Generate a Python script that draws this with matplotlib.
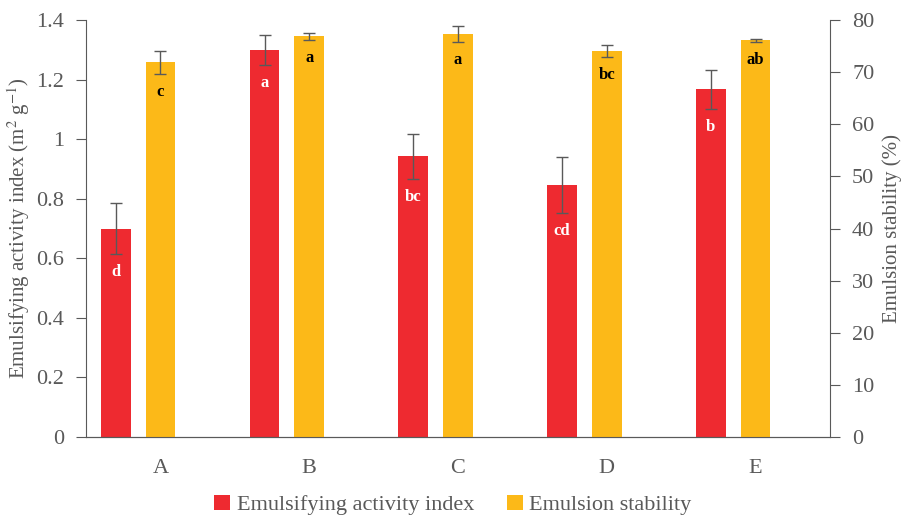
import numpy as np
import matplotlib.pyplot as plt

plt.rcParams['font.family'] = ['Liberation Serif', 'DejaVu Serif']
plt.rcParams['mathtext.fontset'] = 'stix'

# data
groups = ['A', 'B', 'C', 'D', 'E']
eai = [0.70, 1.30, 0.943, 0.846, 1.168]
eai_err = [0.085, 0.05, 0.075, 0.095, 0.066]
eai_letters = ['d', 'a', 'bc', 'cd', 'b']
es = [71.9, 76.9, 77.4, 74.1, 76.1]
es_err = [2.2, 0.7, 1.5, 1.1, 0.3]
es_letters = ['c', 'a', 'a', 'bc', 'ab']

red = '#EE2A30'
yellow = '#FCB918'
grey = '#595959'

x = np.arange(len(groups))
width = 0.2

fig = plt.figure(figsize=(9.06, 5.17), dpi=100)
ax = fig.add_axes([0.095, 0.155, 0.821, 0.806])
ax2 = ax.twinx()

b1 = ax.bar(x - 0.3, eai, width, color=red, yerr=eai_err, capsize=4,
            error_kw=dict(ecolor=grey, elinewidth=1, capthick=1),
            label='Emulsifying activity index', zorder=2)
b2 = ax2.bar(x, es, width, color=yellow, yerr=es_err, capsize=4,
             error_kw=dict(ecolor=grey, elinewidth=1, capthick=1),
             label='Emulsion stability', zorder=2)

# significance letters just under the error bars
for xi, v, e, t in zip(x, eai, eai_err, eai_letters):
    ax.annotate(t, (xi - 0.3, v - e), xytext=(0, -13), textcoords='offset points',
                ha='center', va='center', color='white', fontweight='bold', fontsize=12)
for xi, v, e, t in zip(x, es, es_err, es_letters):
    ax2.annotate(t, (xi, v - e), xytext=(0, -13), textcoords='offset points',
                 ha='center', va='center', color='black', fontweight='bold', fontsize=12)

ax.set_xlim(-0.5, 4.5)
ax.set_ylim(0, 1.4)
ax2.set_ylim(0, 80)
ax.set_yticks([0, 0.2, 0.4, 0.6, 0.8, 1, 1.2, 1.4])
ax.set_yticklabels(['0', '0.2', '0.4', '0.6', '0.8', '1', '1.2', '1.4'])
ax2.set_yticks(range(0, 81, 10))
ax.set_xticks(x)
ax.set_xticklabels(groups)

for a in (ax, ax2):
    a.spines['top'].set_visible(False)
    for s in ('left', 'right', 'bottom'):
        a.spines[s].set_color(grey)
    a.tick_params(axis='y', colors=grey, labelsize=16, length=7, pad=9)
ax2.spines['left'].set_visible(False)
ax.spines['right'].set_visible(False)
ax.tick_params(axis='x', length=0, colors=grey, labelsize=16, pad=16)

ax.set_ylabel('Emulsifying activity index (m$^2$ g$^{-1}$)', fontsize=15,
              color=grey, labelpad=3)
ax2.set_ylabel('Emulsion stability (%)', fontsize=15, color=grey, labelpad=6)

fig.legend(handles=[b1, b2], loc='lower center', ncol=2, frameon=False,
           fontsize=16, bbox_to_anchor=(0.5, -0.035), handlelength=0.7,
           handleheight=0.7, handletextpad=0.3, columnspacing=1.5,
           labelcolor=grey)

fig.savefig('out.png', dpi=100)
